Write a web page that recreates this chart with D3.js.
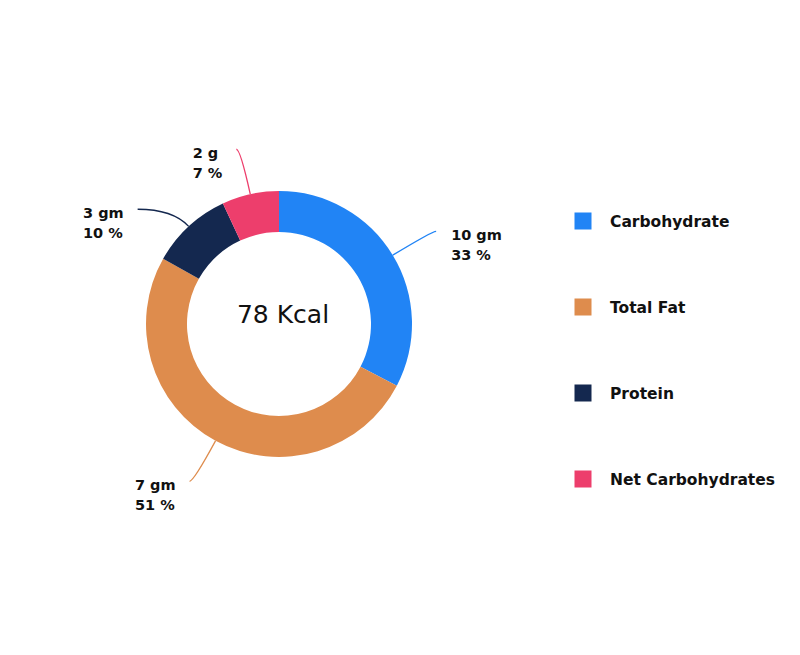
<!DOCTYPE html>
<html>
<head>
<meta charset="utf-8">
<script src="https://cdn.jsdelivr.net/npm/d3@7"></script>
<style>
  html, body { margin: 0; padding: 0; background: #fff; }
  svg { display: block; }
</style>
</head>
<body>
<svg id="chart" width="800" height="655"></svg>
<script>
// ---- data ----
const categories = ["Carbohydrate", "Total Fat", "Protein", "Net Carbohydrates"];
const percents   = [33, 51, 10, 7];
const amounts    = ["10 gm", "7 gm", "3 gm", "2 g"];
const colors     = ["#2184f5", "#de8c4d", "#14284f", "#ed3e6c"];
const totalKcal  = 78;

// ---- layout ----
const cx = 279, cy = 324;
const outerR = 133, innerR = 92;
const labelR = 179;

const svg = d3.select("#chart");
const g = svg.append("g").attr("transform", `translate(${cx},${cy})`);

const data = categories.map((c, i) => ({ name: c, value: percents[i], amount: amounts[i], color: colors[i] }));
const pie = d3.pie().value(d => d.value).sort(null);
const arcs = pie(data);
const arc = d3.arc().innerRadius(innerR).outerRadius(outerR);

g.selectAll("path.slice").data(arcs).join("path")
  .attr("class", "slice")
  .attr("d", arc)
  .attr("fill", d => d.data.color);

// centre text
g.append("text")
  .attr("x", 4).attr("y", -1)
  .attr("text-anchor", "middle")
  .attr("font-family", "DejaVu Sans, sans-serif")
  .attr("font-size", 25)
  .attr("fill", "#111")
  .text(totalKcal + " Kcal");

// ---- labels with leader lines ----
const polar = (a, r) => [r * Math.sin(a), -r * Math.cos(a)];
const items = arcs.map(a => {
  const mid = (a.startAngle + a.endAngle) / 2;
  const side = Math.sin(mid) >= 0 ? 1 : -1;
  const p0 = polar(mid, outerR);
  const p2 = polar(mid, labelR);
  return { a, mid, side, p0, x: p2[0], y: p2[1] };
});
// simple vertical collision avoidance per side
[1, -1].forEach(s => {
  const list = items.filter(d => d.side === s).sort((u, v) => u.y - v.y);
  const minGap = 60;
  for (let i = 1; i < list.length; i++) {
    if (list[i].y - list[i - 1].y < minGap) {
      list[i].y = list[i - 1].y + minGap;
      const dx = Math.sqrt(Math.max(0, labelR * labelR - list[i].y * list[i].y));
      list[i].x = s * dx;
    }
  }
});
items.forEach(d => { d.x += d.side * 4; });

items.forEach(d => {
  const ux = Math.sin(d.mid), uy = -Math.cos(d.mid);
  const dist = Math.hypot(d.x - d.p0[0], d.y - d.p0[1]);
  let t = uy !== 0 ? (d.y - d.p0[1]) / uy : dist;
  t = Math.max(0, Math.min(t, dist));
  const c = [d.p0[0] + ux * t, d.p0[1] + uy * t];
  const path = d3.path();
  path.moveTo(d.p0[0], d.p0[1]);
  path.quadraticCurveTo(c[0], c[1], d.x, d.y);
  g.append("path")
    .attr("d", path.toString())
    .attr("fill", "none")
    .attr("stroke", d.a.data.color)
    .attr("stroke-width", 1.3);

  const lbl = g.append("text")
    .attr("font-family", "DejaVu Sans, sans-serif")
    .attr("font-weight", "bold")
    .attr("font-size", 14.5)
    .attr("fill", "#111");
  const l1 = lbl.append("tspan").attr("y", d.y + 9).text(d.a.data.amount);
  const l2 = lbl.append("tspan").attr("y", d.y + 29).text(Math.round(d.a.data.value) + " %");
  const w = Math.max(l1.node().getComputedTextLength(), l2.node().getComputedTextLength());
  const lx = d.side > 0 ? d.x + 15 : d.x - 14 - w;
  l1.attr("x", lx); l2.attr("x", lx);
});

// ---- legend ----
const legend = svg.append("g");
const legY = d3.scalePoint().domain(categories).range([221, 479]);
const rows = legend.selectAll("g").data(data).join("g")
  .attr("transform", d => `translate(574.5,${legY(d.name)})`);
rows.append("rect")
  .attr("x", 0).attr("y", -8.5).attr("width", 17).attr("height", 17)
  .attr("fill", d => d.color);
rows.append("text")
  .attr("x", 35.5).attr("y", 5.5)
  .attr("font-family", "DejaVu Sans, sans-serif")
  .attr("font-weight", "bold")
  .attr("font-size", 15.5)
  .attr("fill", "#111")
  .text(d => d.name);
</script>
</body>
</html>
